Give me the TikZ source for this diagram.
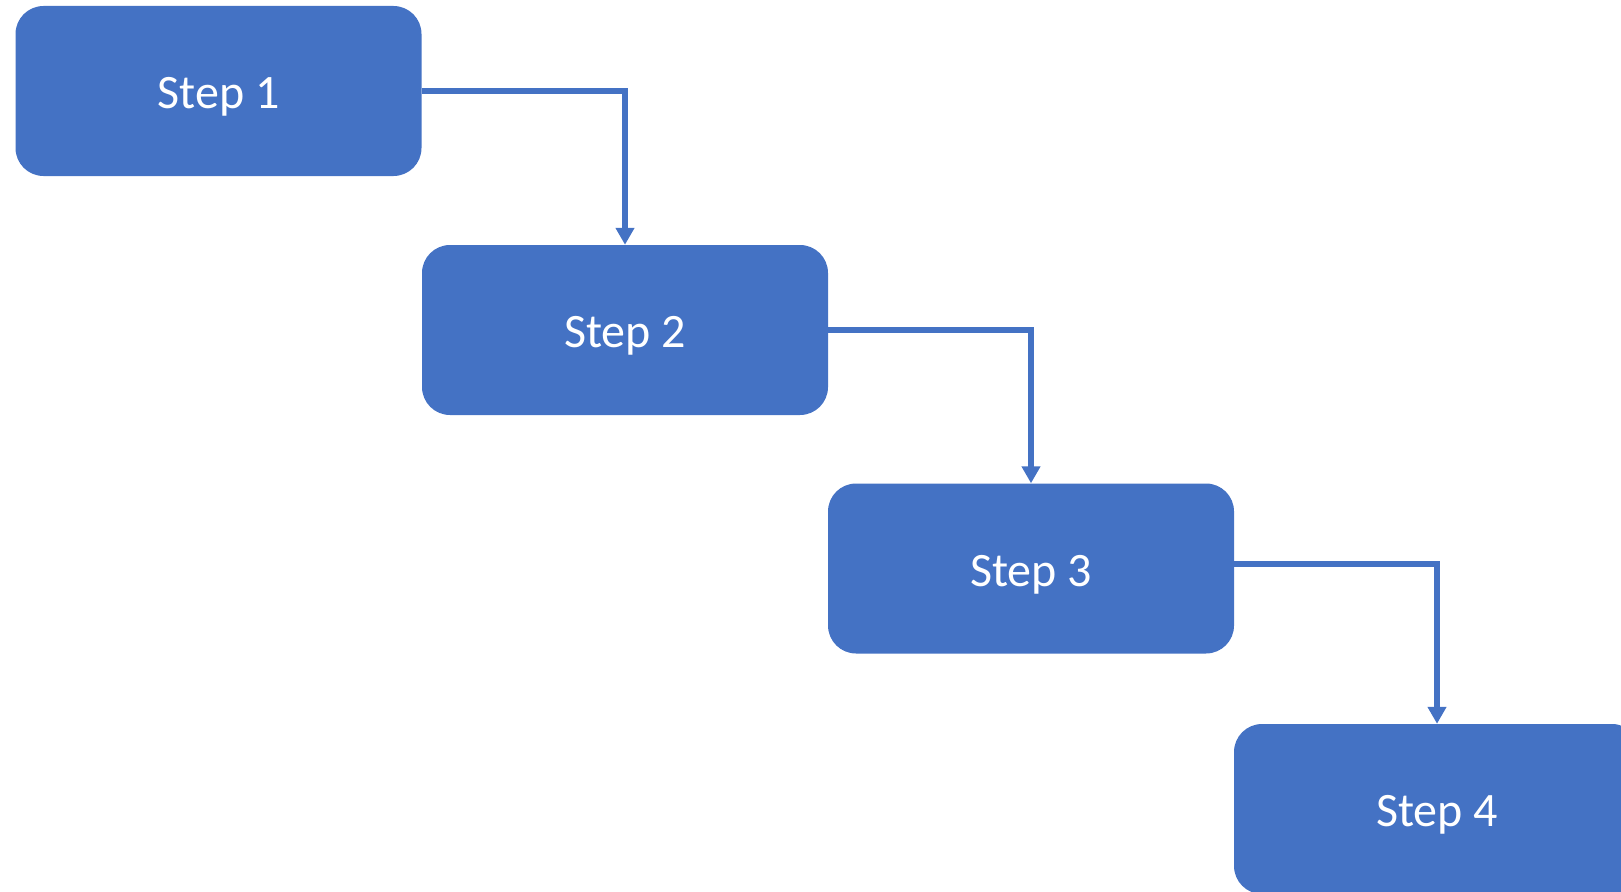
\documentclass[tikz,border=0pt]{standalone}
\usepackage{fontspec}
\setmainfont{Carlito}
\usetikzlibrary{arrows.meta}
\definecolor{officeblue}{HTML}{4472C4}
\begin{document}
\begin{tikzpicture}[x=1pt,y=-1pt,
  stepbox/.style={fill=officeblue, draw=none, rounded corners=28pt,
    minimum width=406pt, minimum height=170pt, inner sep=0pt,
    text height=35pt, text depth=0pt,
    text=white, font=\fontsize{48}{56}\selectfont},
  conn/.style={draw=officeblue, line width=5.5pt,
    -{Triangle[width=18pt,length=17pt]}}]
\useasboundingbox (0,0) rectangle (1621,891);
\clip (0,0) rectangle (1621,891);
\node[stepbox] (s1) at (218.5,91) {Step 1};
\node[stepbox] (s2) at (625,330) {Step 2};
\node[stepbox] (s3) at (1031,568.5) {Step 3};
\node[stepbox] (s4) at (1437,809) {Step 4};
\draw[conn] (s1.east) -| (s2.north);
\draw[conn] (s2.east) -| (s3.north);
\draw[conn] ([yshift=4.5pt]s3.east) -| (s4.north);
\end{tikzpicture}
\end{document}
